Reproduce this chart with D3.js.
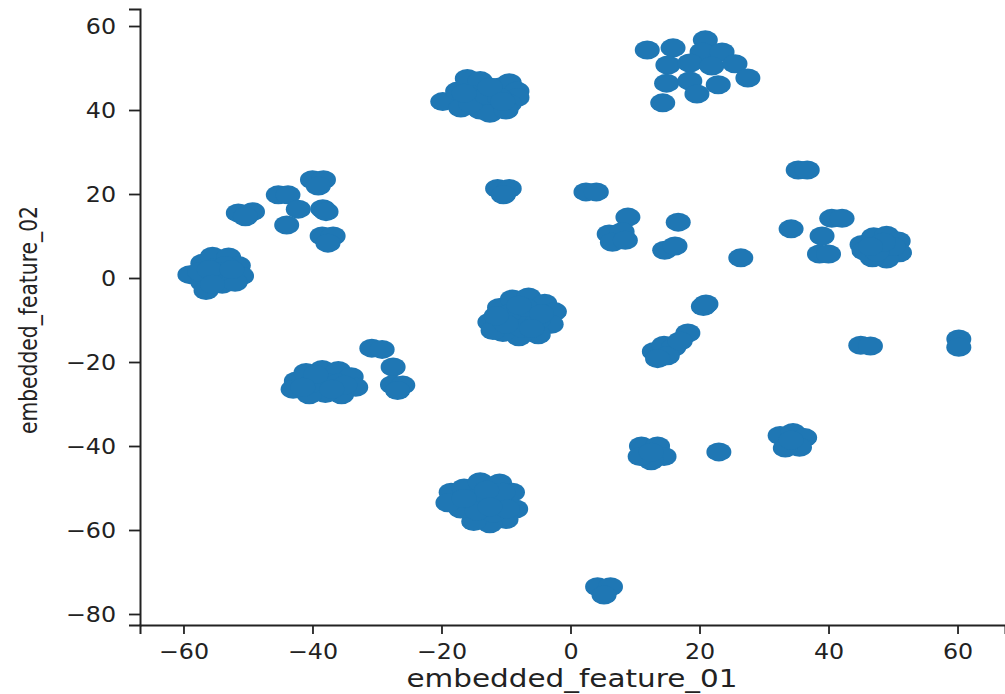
<!DOCTYPE html>
<html>
<head>
<meta charset="utf-8">
<script src="https://cdn.jsdelivr.net/npm/d3@7"></script>
<style>
  html, body { margin: 0; padding: 0; background: #fff; }
  svg { display: block; }
</style>
</head>
<body>
<svg id="chart" width="1005" height="694"></svg>
<script>
// embedded_feature_01 (x) values
const featureX = [
  11.9, 15.9, 20.9, 20.4, 23.5, 15.1, 18.5, 21.9, 25.5, 27.5, 14.9, 18.5, 22.9, 19.6, 14.3,
  -19.8, -17.5, -16.0, -14.0, -15.0, -17.0, -14.0, -12.0, -11.0, -9.5, -8.3, -8.3, -9.5, -12.5, -10.0, -15.5,
  -13.0, -11.0, -16.5, -12.5, -10.5,
  -59.0, -57.0, -55.5, -53.0, -51.5, -51.0, -53.0, -55.0, -57.0, -56.5, -54.0, -52.0, -55.0, -53.5, -57.5,
  -54.5, -56.0, -52.5, -55.5,
  -51.5, -49.3, -50.4, -45.3, -43.8, -40.0, -38.3, -39.1, -42.2, -38.4, -37.9, -44.0, -38.5, -36.8, -37.6,
  -42.5, -41.0, -38.5, -36.0, -34.0, -33.3, -35.5, -38.0, -40.5, -43.0, -38.0, -36.0,
  -40.0, -39.5, -35.0, -37.0, -41.5,
  -30.8, -29.2, -27.5, -27.6, -26.0, -26.8,
  -12.5, -11.0, -9.0, -6.5, -4.0, -2.5, -3.0, -5.0, -8.0, -10.5, -8.0, -6.0, -9.5, -5.0, -12.0,
  -7.0, -4.5, -7.5, -10.0, -11.5, -8.0, -6.0,
  -18.5, -16.5, -14.0, -11.0, -9.0, -8.5, -10.0, -12.5, -15.0, -17.0, -19.0, -13.5, -11.0, -15.5, -12.0,
  -14.5, -16.5, -10.5, -13.0, -9.8, -12.5,
  -11.3, -9.5, -10.4,
  2.4, 4.0, 8.9, 6.0, 8.0, 6.5, 8.5, 16.7, 14.6, 16.2, 26.4,
  35.3, 36.7, 40.5, 42.1, 34.2, 39.0, 38.6, 40.0,
  45.2, 47.0, 49.0, 50.8, 51.0, 49.0, 46.8, 45.5, 48.0, 50.0, 47.5, 48.5, 46.5,
  21.0, 20.6, 18.2, 13.0, 14.5, 16.0, 15.0, 13.5, 17.0,
  11.0, 13.5, 14.5, 12.5, 10.8, 12.5, 23.0,
  32.5, 34.5, 36.3, 35.5, 33.3, 34.2,
  45.0, 46.5, 60.2, 60.2, 4.2, 6.2, 5.2
];
// embedded_feature_02 (y) values
const featureY = [
  54.3, 54.8, 56.7, 53.8, 53.8, 50.7, 51.2, 50.5, 51.0, 47.6, 46.4, 46.9, 46.0, 43.8, 41.7,
  42.0, 44.5, 47.5, 47.0, 43.5, 40.5, 40.0, 42.5, 45.5, 46.5, 44.5, 43.0, 41.5, 39.2, 40.0, 41.5,
  43.5, 43.0, 44.0, 45.5, 42.0,
  0.8, 3.5, 5.2, 5.0, 3.0, 0.5, 1.0, 0.0, -1.0, -3.0, -1.5, -1.0, 2.5, 3.0, 1.5,
  1.5, 2.0, 2.0, -1.5,
  15.5, 15.8, 14.6, 19.8, 19.8, 23.4, 23.4, 21.9, 16.4, 16.5, 15.8, 12.6, 10.0, 10.0, 8.3,
  -24.5, -22.5, -21.8, -22.0, -23.5, -26.0, -27.8, -27.5, -27.8, -26.5, -24.8, -25.0,
  -25.0, -23.0, -25.5, -26.5, -26.0,
  -16.7, -17.0, -21.2, -25.4, -25.5, -26.8,
  -10.5, -7.0, -5.0, -4.5, -6.0, -8.0, -11.0, -13.5, -14.0, -13.0, -9.5, -9.0, -8.5, -10.0, -12.5,
  -7.0, -8.5, -12.0, -11.0, -9.0, -6.5, -12.0,
  -51.0, -50.0, -48.5, -48.8, -51.0, -55.0, -57.5, -58.5, -58.0, -55.0, -53.5, -53.0, -53.5, -52.5, -56.0,
  -55.5, -52.5, -51.0, -50.5, -55.0, -54.5,
  21.3, 21.3, 19.8,
  20.5, 20.5, 14.5, 10.5, 11.0, 8.5, 9.0, 13.3, 6.6, 7.6, 4.8,
  25.7, 25.7, 14.2, 14.2, 11.7, 10.0, 5.7, 5.7,
  8.0, 9.8, 10.2, 8.8, 6.0, 4.5, 4.8, 6.5, 7.0, 7.5, 6.2, 8.5, 7.5,
  -6.2, -6.8, -13.1, -17.5, -16.0, -16.5, -18.5, -19.2, -15.0,
  -40.0, -40.0, -42.5, -43.5, -42.5, -41.5, -41.4,
  -37.5, -36.8, -38.0, -40.3, -40.5, -38.6,
  -16.0, -16.2, -14.5, -16.5, -73.5, -73.5, -75.5
];
const xTicks = [-60, -40, -20, 0, 20, 40, 60];
const yTicks = [-80, -60, -40, -20, 0, 20, 40, 60];
const xLabel = "embedded_feature_01";
const yLabel = "embedded_feature_02";

const points = featureX.map((x, i) => ({ x, y: featureY[i] }));

const svg = d3.select("#chart");
const plotLeft = 140, plotRight = 1005, plotTop = 9, plotBottom = 625;

const x = d3.scaleLinear().domain([-66.74, 67.36]).range([plotLeft, plotRight]);
const y = d3.scaleLinear().domain([-82.62, 64.05]).range([plotBottom, plotTop]);

const fmt = d => (d < 0 ? "\u2212" + Math.abs(d) : String(d));

// points
svg.append("g")
  .selectAll("ellipse")
  .data(points)
  .join("ellipse")
  .attr("cx", d => x(d.x))
  .attr("cy", d => y(d.y))
  .attr("rx", 12.5)
  .attr("ry", 9.5)
  .attr("fill", "#1f77b4");

// x axis
const gx = svg.append("g")
  .attr("transform", `translate(0,${plotBottom})`)
  .call(d3.axisBottom(x).tickValues(xTicks).tickFormat(fmt).tickSizeOuter(0).tickSize(9).tickPadding(9));

// y axis
const gy = svg.append("g")
  .attr("transform", `translate(${plotLeft},0)`)
  .call(d3.axisLeft(y).tickValues(yTicks).tickFormat(fmt).tickSizeOuter(0).tickSize(11).tickPadding(13));

[gx, gy].forEach(g => {
  g.select(".domain").attr("stroke", "#222").attr("stroke-width", 2);
  g.selectAll(".tick line").attr("stroke", "#222").attr("stroke-width", 1.8);
  g.selectAll(".tick text")
    .attr("fill", "#222")
    .attr("font-family", "DejaVu Sans")
    .attr("font-size", 22);
});
gx.selectAll(".tick text").attr("transform", "scale(1.08,1)");
gy.selectAll(".tick text").attr("x", -24 / 1.08).attr("transform", "scale(1.08,1)");

// axis labels
svg.append("text")
  .attr("x", 572)
  .attr("y", 687)
  .attr("text-anchor", "middle")
  .attr("font-family", "DejaVu Sans")
  .attr("font-size", 24)
  .attr("fill", "#222")
  .attr("textLength", 331)
  .attr("lengthAdjust", "spacingAndGlyphs")
  .text(xLabel);

svg.append("text")
  .attr("transform", `translate(37,320) rotate(-90)`)
  .attr("text-anchor", "middle")
  .attr("font-family", "DejaVu Sans")
  .attr("font-size", 24)
  .attr("fill", "#222")
  .attr("textLength", 228)
  .attr("lengthAdjust", "spacingAndGlyphs")
  .text(yLabel);
</script>
</body>
</html>
